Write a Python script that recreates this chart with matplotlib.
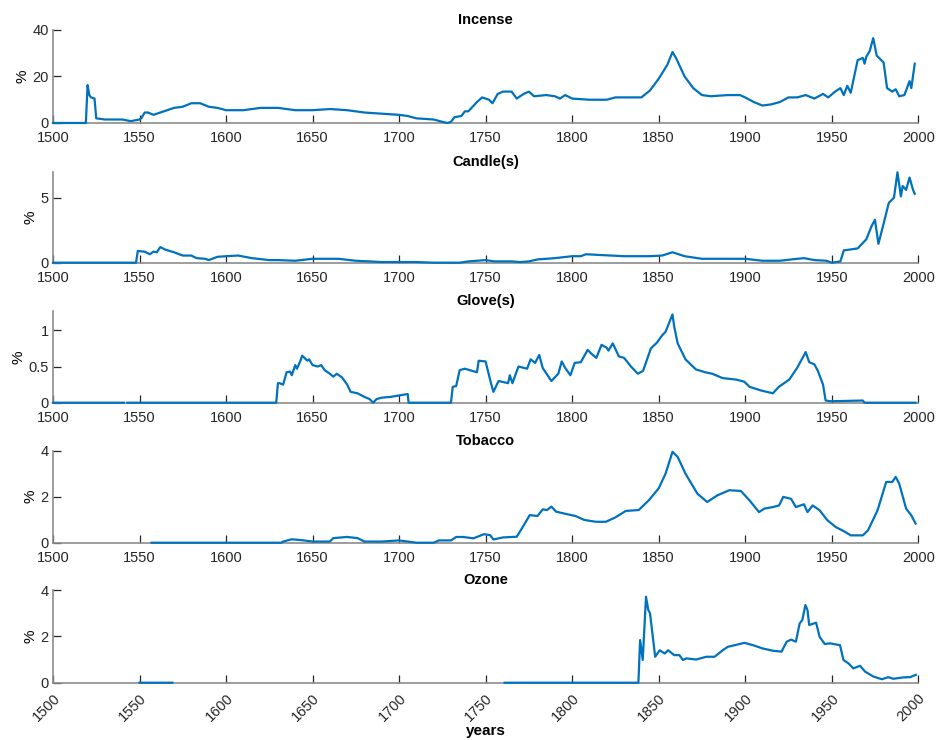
import numpy as np
import matplotlib
matplotlib.use("Agg")
import matplotlib.pyplot as plt

plt.rcParams['font.family'] = ['Liberation Sans', 'DejaVu Sans']
plt.rcParams['font.size'] = 10.5

nan = np.nan

# Incense
incense_years = [1500, 1519, 1520, 1521, 1522, 1524, 1525, 1530, 1540, 1545, 1550, 1551, 1553,
                 1555, 1558, 1562, 1570, 1575, 1580, 1585, 1590, 1595, 1600, 1610, 1620, 1630,
                 1640, 1650, 1660, 1670, 1680, 1690, 1700, 1705, 1710, 1720, 1725, 1728, 1730,
                 1732, 1736, 1738, 1740, 1745, 1748, 1752, 1754, 1757, 1760, 1765, 1768, 1772,
                 1775, 1778, 1785, 1790, 1793, 1796, 1800, 1810, 1820, 1825, 1830, 1840, 1845,
                 1850, 1855, 1858, 1860, 1865, 1870, 1875, 1880, 1890, 1897, 1900, 1905, 1910,
                 1915, 1920, 1925, 1930, 1935, 1940, 1945, 1948, 1952, 1955, 1957, 1959, 1961,
                 1963, 1965, 1968, 1969, 1970, 1972, 1974, 1976, 1980, 1982, 1985, 1987, 1989,
                 1992, 1995, 1996, 1998]
incense_vals = [0, 0, 16.3, 12, 11, 10.5, 2, 1.5, 1.5, 0.8, 1.5, 2, 4.5,
                4.5, 3.5, 4.5, 6.5, 7, 8.5, 8.5, 7, 6.5, 5.5, 5.5, 6.5, 6.5,
                5.5, 5.5, 6, 5.5, 4.5, 4, 3.5, 3, 2, 1.5, 0.5, 0, 0.5,
                2.5, 3, 5, 5, 9, 11, 10, 8.5, 12.5, 13.5, 13.5, 10.5, 12.5,
                13.5, 11.5, 12, 11.5, 10.5, 12, 10.5, 10, 10, 11, 11, 11, 14,
                19, 25, 30.5, 28, 20, 15, 12, 11.5, 12, 12, 11, 9, 7.5,
                8, 9, 11, 11, 12, 10.5, 12.5, 11, 13.5, 15, 12, 16, 13,
                20, 27, 28, 25.5, 28.5, 31, 36.5, 29, 26, 15, 13.5, 14.5, 11.5,
                12, 18, 15, 25.5]

# Candle(s)
candle_years = [1500, 1548, 1549, 1553, 1556, 1558, 1560, 1562, 1565, 1570, 1575, 1580, 1583,
                1588, 1590, 1595, 1600, 1607, 1615, 1625, 1630, 1640, 1650, 1665, 1675, 1690,
                1710, 1720, 1735, 1740, 1750, 1755, 1765, 1770, 1775, 1780, 1790, 1800, 1805,
                1808, 1815, 1830, 1845, 1852, 1858, 1865, 1875, 1890, 1900, 1910, 1920, 1930,
                1934, 1940, 1947, 1950, 1955, 1957, 1960, 1965, 1970, 1973, 1975, 1977, 1980,
                1983, 1986, 1988, 1990, 1991, 1993, 1995, 1997, 1998]
candle_vals = [0, 0, 0.9, 0.85, 0.65, 0.85, 0.8, 1.2, 1.0, 0.8, 0.55, 0.55, 0.35,
               0.3, 0.2, 0.45, 0.5, 0.55, 0.35, 0.2, 0.2, 0.15, 0.3, 0.3, 0.15, 0.05,
               0.05, 0, 0, 0.1, 0.2, 0.1, 0.1, 0.05, 0.1, 0.25, 0.35, 0.5, 0.5,
               0.65, 0.6, 0.5, 0.5, 0.55, 0.8, 0.5, 0.3, 0.3, 0.3, 0.15, 0.15, 0.3,
               0.35, 0.2, 0.15, 0, 0.1, 0.95, 1.0, 1.1, 1.8, 2.8, 3.3, 1.45, 3.0,
               4.6, 5.0, 6.95, 5.1, 5.9, 5.6, 6.55, 5.6, 5.3]

# Glove(s)
glove_years = [1500, 1541, 1542, 1543, 1629, 1630, 1631, 1633, 1635, 1637, 1638, 1640, 1641,
               1643, 1644, 1647, 1648, 1650, 1653, 1655, 1657, 1660, 1662, 1664, 1667, 1670,
               1672, 1676, 1680, 1683, 1685, 1687, 1690, 1695, 1700, 1705, 1705.5, 1730,
               1731, 1733, 1735, 1738, 1745, 1746, 1750, 1753, 1754.5, 1757.5, 1763, 1764,
               1765.5, 1769, 1774, 1776, 1778.6, 1781, 1783, 1788, 1792, 1794, 1796, 1799,
               1801.5, 1805, 1809, 1811, 1814, 1817, 1820, 1821, 1823.5, 1827, 1830, 1834,
               1838, 1841, 1845.5, 1849, 1852, 1854, 1858, 1859, 1861, 1865.5, 1871.5, 1877,
               1881, 1887, 1894.7, 1899.5, 1902.5, 1909, 1916, 1919.5, 1925.5, 1930, 1935,
               1937, 1940, 1942, 1945, 1946.5, 1949.5, 1968, 1969, 1998.5]
glove_vals = [0, 0, nan, 0, 0, 0.27, 0.27, 0.25, 0.42, 0.43, 0.38, 0.52, 0.47,
              0.58, 0.65, 0.58, 0.6, 0.52, 0.5, 0.52, 0.45, 0.4, 0.36, 0.4, 0.35, 0.25,
              0.15, 0.13, 0.08, 0.05, 0, 0.05, 0.07, 0.08, 0.1, 0.12, 0, 0,
              0.22, 0.23, 0.45, 0.47, 0.42, 0.58, 0.57, 0.28, 0.15, 0.3, 0.27, 0.38,
              0.27, 0.5, 0.47, 0.6, 0.55, 0.66, 0.48, 0.3, 0.4, 0.57, 0.48, 0.38,
              0.55, 0.56, 0.73, 0.68, 0.62, 0.8, 0.76, 0.72, 0.82, 0.64, 0.62, 0.5,
              0.4, 0.44, 0.75, 0.83, 0.93, 0.98, 1.22, 1.05, 0.82, 0.6, 0.46, 0.42,
              0.4, 0.34, 0.32, 0.29, 0.22, 0.17, 0.13, 0.22, 0.32, 0.48, 0.7,
              0.56, 0.53, 0.44, 0.25, 0.03, 0.02, 0.03, 0, 0]

# Tobacco
tobacco_years = [1557, 1632, 1633, 1638, 1645, 1650, 1660, 1662, 1670, 1676, 1680, 1690, 1700,
                 1705, 1710, 1720, 1723, 1730, 1733, 1737, 1743, 1749, 1752.6, 1754.5, 1760,
                 1768, 1771.6, 1775.5, 1780, 1783, 1785.5, 1788, 1790.7, 1796.5, 1802, 1807,
                 1813.7, 1819.5, 1825, 1831, 1838.5, 1844.5, 1850, 1854, 1858, 1861, 1865.5,
                 1872.4, 1878, 1884, 1890.8, 1897.5, 1902.5, 1908, 1911, 1916, 1919.6, 1922,
                 1926.5, 1929.3, 1934, 1936, 1939, 1943, 1947.6, 1952.4, 1958, 1961, 1968,
                 1971, 1976.5, 1981.5, 1985, 1987, 1989, 1993, 1996, 1998.5]
tobacco_vals = [0, 0, 0.05, 0.15, 0.1, 0.05, 0.05, 0.2, 0.25, 0.2, 0.05, 0.05, 0.1,
                0.05, 0, 0, 0.1, 0.1, 0.25, 0.25, 0.19, 0.37, 0.33, 0.14, 0.23,
                0.26, 0.7, 1.2, 1.16, 1.45, 1.42, 1.57, 1.35, 1.25, 1.16, 0.99,
                0.91, 0.91, 1.1, 1.38, 1.42, 1.86, 2.36, 3.0, 3.95, 3.73, 3.0,
                2.13, 1.77, 2.06, 2.28, 2.25, 1.84, 1.33, 1.48, 1.55, 1.62, 1.99,
                1.91, 1.55, 1.67, 1.33, 1.62, 1.41, 0.97, 0.68, 0.46, 0.32, 0.32,
                0.54, 1.41, 2.64, 2.64, 2.86, 2.57, 1.48, 1.19, 0.83]

# Ozone
ozone_years = [1550, 1569, 1570, 1761, 1838.3, 1839.3, 1840.8, 1842.7, 1844, 1845, 1848, 1850.6,
               1853.5, 1855.5, 1859, 1862, 1864, 1866, 1871.7, 1877.5, 1882.3, 1887, 1890,
               1894, 1899.6, 1904.5, 1910, 1916, 1921, 1924, 1926.5, 1929.3, 1931.5, 1933,
               1934.8, 1936, 1937, 1941, 1943, 1946, 1949, 1954.8, 1956.8, 1959.6, 1962.5,
               1966.4, 1969.3, 1974, 1979, 1982.7, 1985.6, 1991.4, 1995.3, 1998.6]
ozone_vals = [0, 0, nan, 0, 0, 1.84, 0.98, 3.71, 3.14, 3.0, 1.12, 1.4,
              1.26, 1.4, 1.19, 1.19, 0.98, 1.05, 1.0, 1.12, 1.12, 1.4, 1.55,
              1.62, 1.72, 1.62, 1.48, 1.38, 1.34, 1.77, 1.86, 1.77, 2.56, 2.7,
              3.35, 3.14, 2.49, 2.59, 1.98, 1.67, 1.7, 1.62, 0.98, 0.84, 0.62,
              0.73, 0.48, 0.27, 0.15, 0.24, 0.17, 0.23, 0.24, 0.34]

titles = ['Incense', 'Candle(s)', 'Glove(s)', 'Tobacco', 'Ozone']
series = [(incense_years, incense_vals), (candle_years, candle_vals),
          (glove_years, glove_vals), (tobacco_years, tobacco_vals),
          (ozone_years, ozone_vals)]
ylims = [40, 7, 1.27, 4, 4]
yticks = [[0, 20, 40], [0, 5], [0, 0.5, 1], [0, 2, 4], [0, 2, 4]]
ytick_labels = [['0', '20', '40'], ['0', '5'], ['0', '0.5', '1'], ['0', '2', '4'], ['0', '2', '4']]
xticks = list(range(1500, 2001, 50))

# axes boxes in figure fractions (bottom, top)
boxes = [(0.8338, 0.9595), (0.645, 0.768), (0.4558, 0.580), (0.2666, 0.391), (0.0774, 0.2027)]
left, right = 0.0566, 0.981

fig = plt.figure(figsize=(9.36, 7.4), dpi=100)
for i in range(5):
    b, t = boxes[i]
    ax = fig.add_axes([left, b, right - left, t - b])
    x, y = series[i]
    ax.plot(x, y, color='#0072BD', lw=1.6, zorder=3, clip_on=False)
    ax.set_xlim(1500, 2000)
    ax.set_ylim(0, ylims[i])
    ax.set_xticks(xticks)
    ax.set_yticks(yticks[i])
    ax.set_yticklabels(ytick_labels[i])
    for s in ['top', 'right']:
        ax.spines[s].set_visible(False)
    for s in ['left', 'bottom']:
        ax.spines[s].set_color('#8c8c8c')
        ax.spines[s].set_linewidth(1.2)
    ax.tick_params(direction='in', length=5.5, width=0.9, color='#262626',
                   labelcolor='#262626', labelsize=10.5)
    ax.tick_params(axis='x', pad=6)
    ax.tick_params(axis='y', pad=3)
    ax.set_title(titles[i], fontweight='bold', fontsize=10.5, pad=4)
    ax.set_ylabel('%', fontsize=11, labelpad=2)
    if i == 4:
        ax.set_xticklabels([str(v) for v in xticks], rotation=45, ha='right',
                           rotation_mode='anchor')
        ax.set_xlabel('years', fontweight='bold', fontsize=11, labelpad=0)

fig.savefig('out.png', dpi=100)
